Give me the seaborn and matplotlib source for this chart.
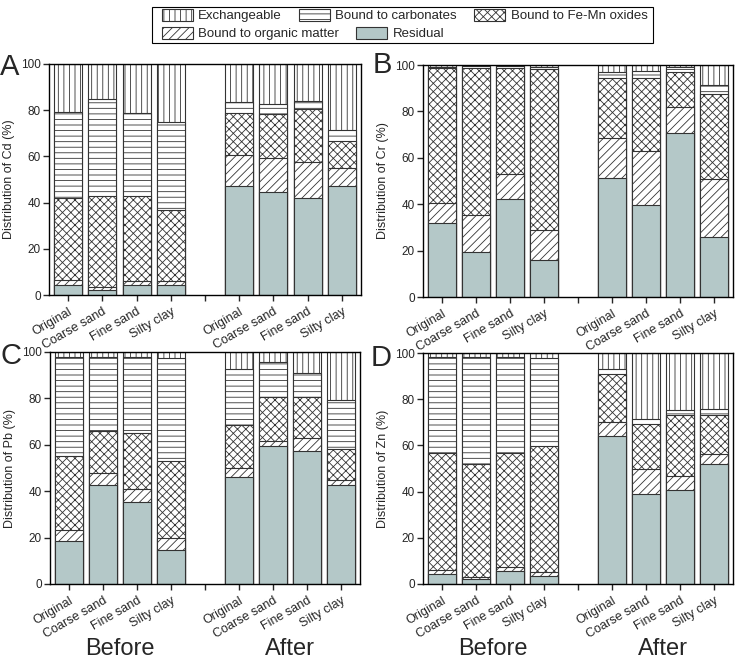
import numpy as np
import matplotlib
matplotlib.use("Agg")
import matplotlib.pyplot as plt
from matplotlib.patches import Patch, Rectangle
import pandas as pd
import seaborn as sns

# %% data (percent of each fraction, bars: 4 before + 4 after)
samples = ["Original", "Coarse sand", "Fine sand", "Silty clay"]
positions = [0, 1, 2, 3, 5, 6, 7, 8]
fractions = ["Exchangeable", "Bound to carbonates", "Bound to Fe-Mn oxides",
             "Bound to organic matter", "Residual"]
elements = ["Cd", "Cr", "Pb", "Zn"]
panel_letters = ["A", "B", "C", "D"]

# rows: residual, organic matter, Fe-Mn oxides, carbonates, exchangeable
cd_values = [
    [4.2, 2.0, 4.2, 4.2, 47.1, 44.7, 41.9, 47.1],
    [2.3, 1.6, 2.0, 2.0, 13.6, 14.8, 15.6, 7.7],
    [35.7, 39.4, 36.8, 30.4, 18.1, 18.7, 22.9, 11.8],
    [36.9, 41.9, 35.8, 38.2, 4.9, 4.7, 3.7, 4.9],
    [20.9, 15.1, 21.2, 25.2, 16.3, 17.1, 15.9, 28.5],
]
cr_values = [
    [31.7, 19.5, 42.1, 16.1, 51.3, 39.5, 70.5, 25.8],
    [8.9, 15.9, 10.8, 12.6, 17.4, 23.3, 11.5, 25.1],
    [57.9, 63.3, 45.9, 69.6, 25.5, 31.4, 14.8, 36.6],
    [0.8, 0.7, 0.7, 1.0, 2.8, 3.3, 2.2, 3.8],
    [0.7, 0.6, 0.5, 0.7, 3.0, 2.5, 1.0, 8.7],
]
pb_values = [
    [18.4, 42.5, 35.2, 14.5, 46.0, 59.6, 57.3, 42.5],
    [4.7, 5.5, 5.6, 5.5, 4.1, 1.9, 5.5, 2.5],
    [32.2, 18.1, 24.1, 33.0, 18.3, 19.0, 17.8, 13.3],
    [42.7, 31.9, 32.8, 44.4, 24.1, 15.0, 10.2, 21.0],
    [2.0, 2.0, 2.3, 2.6, 7.5, 4.5, 9.2, 20.7],
]
zn_values = [
    [4.2, 2.0, 5.5, 3.5, 64.1, 38.9, 40.9, 52.0],
    [1.9, 1.2, 2.0, 1.7, 5.9, 11.1, 5.8, 4.1],
    [50.7, 48.8, 49.3, 54.7, 21.1, 19.3, 26.5, 17.1],
    [41.5, 46.3, 41.5, 38.1, 2.0, 2.2, 2.3, 2.4],
    [1.7, 1.7, 1.7, 2.0, 6.9, 28.5, 24.5, 24.5],
]
all_values = [cd_values, cr_values, pb_values, zn_values]

# %% style
sns.set_theme(style="ticks")
plt.rcParams["font.family"] = ["Liberation Sans", "DejaVu Sans"]
plt.rcParams["hatch.linewidth"] = 0.6
plt.rcParams["hatch.color"] = "#333333"

res_color = "#b4c8c8"
edge = "#333333"
# drawing order: from top of stack down, so the lower fraction covers the upper one
layer_styles = [
    ("Exchangeable", "white", "|||", 4),
    ("Bound to carbonates", "white", "---", 3),
    ("Bound to Fe-Mn oxides", "white", "xxxx", 2),
    ("Bound to organic matter", "white", "////", 1),
    ("Residual", res_color, "", 0),
]

fig = plt.figure(figsize=(7.56, 6.66), dpi=100)
W, H = 756, 666
boxes = [(49, 64, 361, 295), (423, 65, 733, 297),
         (50, 352, 360, 584), (423, 353, 733, 584)]
letter_pos = [(0, 75), (373, 73), (0, 364), (371, 366)]

ticklabels = samples + [""] + samples

for k, (el, vals) in enumerate(zip(elements, all_values)):
    x0, y0, x1, y1 = boxes[k]
    ax = fig.add_axes([x0 / W, 1 - y1 / H, (x1 - x0) / W, (y1 - y0) / H])
    cum = np.cumsum(np.array(vals), axis=0)  # cumulative tops
    for name, fc, hatch, row in layer_styles:
        df = pd.DataFrame({"pos": positions, "top": cum[row]})
        sns.barplot(data=df, x="pos", y="top", native_scale=True, color=fc,
                    width=0.82, errorbar=None, edgecolor=edge, linewidth=0.8,
                    hatch=hatch, saturation=1, ax=ax)
        for p in ax.patches[-len(positions):]:
            p.set_facecolor(fc)
    ax.set_xlim(-0.56, 8.56)
    ax.set_ylim(0, 100)
    ax.set_yticks([0, 20, 40, 60, 80, 100])
    ax.set_xticks(range(9))
    ax.set_xticklabels(ticklabels, rotation=30, ha="right",
                       rotation_mode="anchor", fontsize=9)
    ax.tick_params(axis="y", labelsize=8.5, length=4, width=1, pad=2,
                   direction="out")
    ax.tick_params(axis="x", length=4, width=1, direction="out")
    ax.set_xlabel("")
    ax.set_ylabel(f"Distribution of {el} (%)", fontsize=9)
    for s in ax.spines.values():
        s.set_linewidth(1)
        s.set_color("black")
    lx, ly = letter_pos[k]
    fig.text(lx / W, 1 - ly / H, panel_letters[k], fontsize=21,
             ha="left", va="baseline")
    if k >= 2:
        trans = ax.get_xaxis_transform()
        ax.text(1.5, -0.28, "Before", transform=trans, fontsize=17,
                ha="center", va="center")
        ax.text(6.5, -0.28, "After", transform=trans, fontsize=17,
                ha="center", va="center")

# %% legend: two rows, free flowing like the original, inside one frame
handles = {n: Patch(facecolor=fc, edgecolor=edge, hatch=h, linewidth=0.8)
           for n, fc, h, _ in layer_styles}
leg_kw = dict(frameon=False, fontsize=9.5, handlelength=2.35, handleheight=1.0,
              handletextpad=0.4, columnspacing=1.3, borderpad=0, borderaxespad=0)
row1 = ["Exchangeable", "Bound to carbonates", "Bound to Fe-Mn oxides"]
row2 = ["Bound to organic matter", "Residual"]
leg1 = fig.legend([handles[n] for n in row1], row1, ncol=3, loc="upper left",
                  bbox_to_anchor=(162 / W, 1 - 9 / H), **leg_kw)
leg2 = fig.legend([handles[n] for n in row2], row2, ncol=2, loc="upper left",
                  bbox_to_anchor=(162 / W, 1 - 27 / H), **leg_kw)
fig.canvas.draw()
bb = leg1.get_window_extent()
right = bb.x1 / W + 6 / W
fig.add_artist(Rectangle((152 / W, 1 - 43 / H), right - 152 / W, 36 / H,
                         transform=fig.transFigure, fill=False,
                         edgecolor="black", linewidth=0.8))

fig.savefig("out.png", dpi=100)
